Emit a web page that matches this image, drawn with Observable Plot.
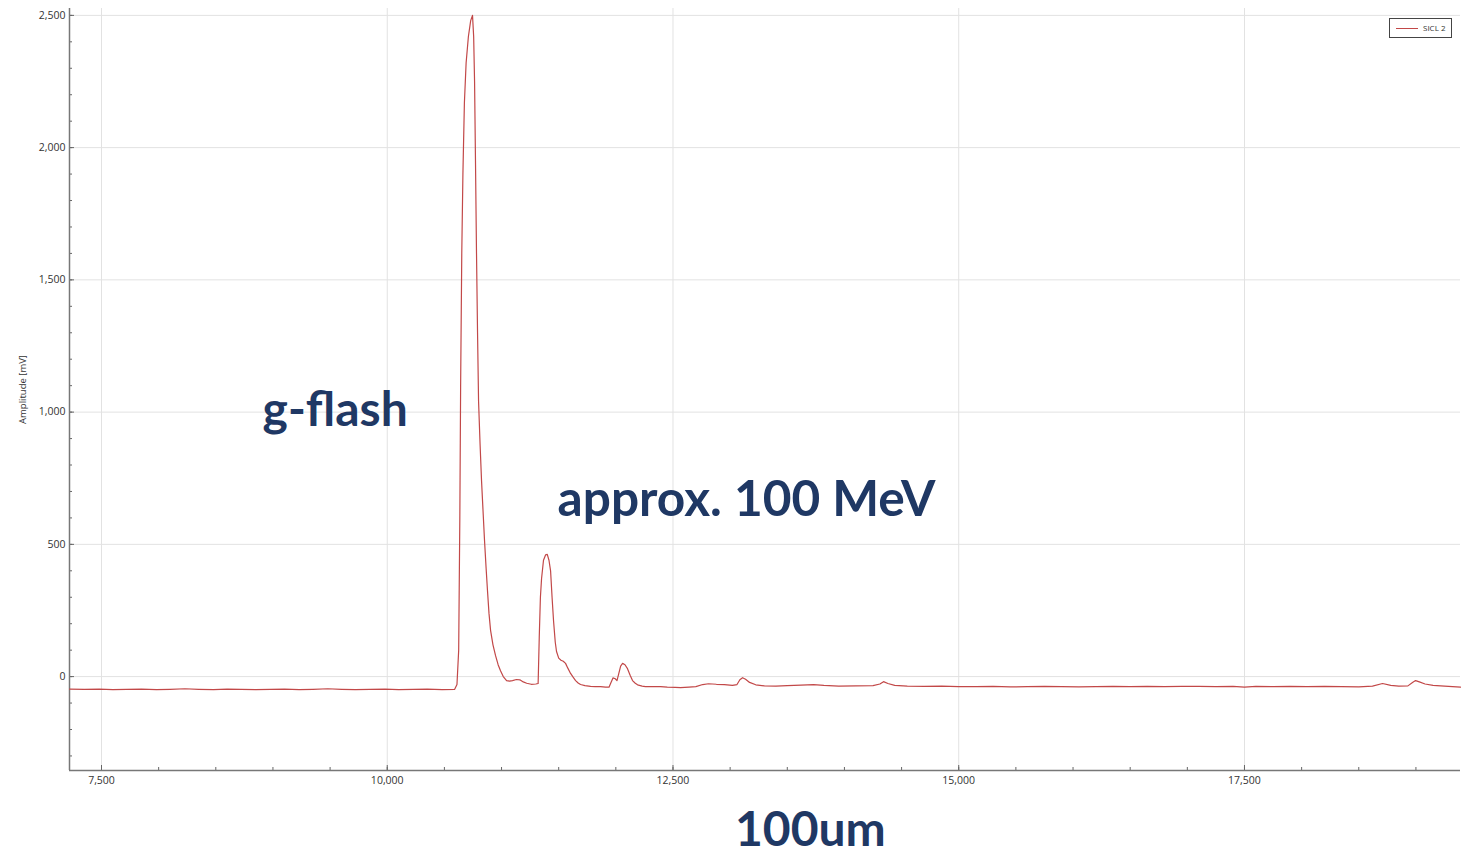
<!DOCTYPE html>
<html>
<head>
<meta charset="utf-8">
<script src="https://cdn.jsdelivr.net/npm/d3@7"></script>
<script src="https://cdn.jsdelivr.net/npm/@observablehq/plot@0.6"></script>
<style>
  html, body { margin: 0; padding: 0; background: #fff; }
  #wrap { position: relative; width: 1463px; height: 851px; overflow: hidden; }
  #legend { position: absolute; left: 1389px; top: 18px; width: 61px; height: 18px; border: 1px solid #444; background: #fff;
            font-family: "Open Sans", sans-serif; font-size: 8px; color: #333; }
  #legend .sw { position: absolute; left: 6px; top: 9px; width: 22px; height: 0; border-top: 1px solid #c24848; }
  #legend .lb { position: absolute; left: 33px; top: 3px; line-height: 11px; }
  #caption { font-family: Lato, sans-serif; font-weight: bold; font-size: 48px; line-height: 44px; height: 44px; color: #1f3864;
             margin: 11px 0 0 735px; white-space: nowrap; }
</style>
</head>
<body>
<div id="wrap">
  <div id="chart"></div>
  <div id="legend"><div class="sw"></div><div class="lb">SICL 2</div></div>
  <div id="caption">100um</div>
</div>
<script>
// ---- data ----
const seriesName = "SICL 2";
const timeX = [
  7220, 7350, 7480, 7600, 7720, 7850, 7980, 8100, 8230, 8350, 8480, 8600, 8720, 8850, 8980, 9100, 9230, 9350, 9480, 9600,
  9720, 9850, 9980, 10100, 10230, 10350, 10480, 10590,
  10610, 10625, 10635, 10642, 10652, 10662, 10675, 10690, 10710, 10730, 10746, 10756, 10764, 10772, 10781, 10790, 10799,
  10812, 10825, 10840, 10851, 10865, 10877, 10890, 10904, 10925, 10947, 10970, 10991, 11015, 11044, 11070, 11096, 11130,
  11160, 11190, 11220, 11260, 11300, 11320,
  11330, 11340, 11350, 11367, 11385, 11400, 11415, 11429, 11442, 11455, 11470, 11481, 11500, 11520, 11540, 11560, 11580,
  11604, 11626, 11648, 11670, 11691, 11730, 11779, 11820, 11866, 11910, 11940, 11955, 11975, 11995, 12010, 12025, 12042,
  12059, 12080, 12102, 12125, 12146, 12170, 12190, 12230, 12260, 12320, 12391, 12450, 12520, 12566, 12640, 12700, 12760,
  12811, 12880, 12950, 13020, 13060, 13085, 13109, 13135, 13170, 13224, 13300, 13400, 13500, 13620, 13730, 13820, 13950,
  14100, 14250, 14310, 14342, 14380, 14440, 14550, 14700, 14850, 15000, 15150, 15300, 15450, 15600, 15750, 15900, 16050,
  16200, 16350, 16500, 16650, 16800, 16950, 17100, 17250, 17400, 17500, 17600, 17750, 17900, 18050, 18200, 18350, 18500,
  18620, 18708, 18780, 18850, 18930, 18970, 18997, 19030, 19080, 19150, 19250, 19390
];
const amplitude = [
  -47, -48, -47, -49, -48, -47, -49, -48, -46, -48, -49, -47, -48, -49, -48, -47, -49, -48, -46, -48,
  -49, -48, -47, -49, -48, -47, -49, -48,
  -30, 100, 600, 1100, 1600, 1900, 2170, 2320, 2420, 2480, 2500, 2420, 2250, 1950, 1600, 1300, 1040,
  880, 740, 610, 515, 410, 325, 240, 175, 120, 80, 45, 22, 0, -15, -17, -15, -11,
  -12, -20, -25, -29, -28, -26,
  150, 300, 370, 440, 460, 462, 440, 400, 300, 210, 130, 95, 70, 62, 58, 50, 32,
  12, -2, -15, -24, -30, -34, -37, -38, -38, -40, -40, -25, -5, -8, -15, 10, 40,
  50, 45, 30, 5, -15, -25, -31, -36, -38, -38, -38, -40, -41, -42, -40, -38, -30,
  -27, -29, -30, -33, -30, -12, -4, -10, -22, -31, -35, -36, -34, -32, -30, -33, -36,
  -35, -34, -28, -19, -26, -33, -36, -37, -36, -38, -38, -37, -39, -38, -37, -38, -39,
  -38, -37, -38, -37, -38, -37, -37, -38, -37, -40, -37, -38, -37, -38, -37, -38, -39,
  -36, -26, -33, -36, -35, -22, -15, -20, -28, -33, -36, -40
];
const xTickValues = [7500, 10000, 12500, 15000, 17500];
const xMinorTicks = [7500, 8000, 8500, 9000, 9500, 10000, 10500, 11000, 11500, 12000, 12500, 13000, 13500, 14000,
  14500, 15000, 15500, 16000, 16500, 17000, 17500, 18000, 18500, 19000];
const yTickValues = [0, 500, 1000, 1500, 2000, 2500];
const yMinorTicks = [-300, -200, -100, 0, 100, 200, 300, 400, 500, 600, 700, 800, 900, 1000, 1100, 1200, 1300, 1400,
  1500, 1600, 1700, 1800, 1900, 2000, 2100, 2200, 2300, 2400, 2500];
const annotLabels = ["g-flash", "approx. 100 MeV"];
const annotX = [8909, 11490];
const annotY = [949, 609];
const annotSize = [48, 49.6];
const yLabel = "Amplitude [mV]";

// ---- build ----
const trace = timeX.map((x, i) => ({x, y: amplitude[i], series: seriesName}));
const annots = annotLabels.map((t, i) => ({t, x: annotX[i], y: annotY[i], s: annotSize[i]}));
const fmt = d3.format(",");

const chart = Plot.plot({
  width: 1463,
  height: 795,
  marginLeft: 69,
  marginRight: 3,
  marginTop: 8,
  marginBottom: 25,
  x: {domain: [7220, 19390]},
  y: {domain: [-355, 2526]},
  style: {fontFamily: "'Open Sans', sans-serif", fontSize: "10.5px", color: "#333", background: "#fff"},
  marks: [
    Plot.gridX(xTickValues, {stroke: "#e2e2e2", strokeOpacity: 1}),
    Plot.gridY(yTickValues, {stroke: "#e2e2e2", strokeOpacity: 1}),
    Plot.axisX({ticks: xMinorTicks, tickSize: -3, text: null, label: null, stroke: "#666"}),
    Plot.axisX({ticks: xTickValues, tickSize: -5, text: null, label: null, stroke: "#666"}),
    Plot.axisX({ticks: xTickValues, tickSize: 0, tickPadding: 6, tickFormat: fmt, label: null}),
    Plot.axisY({ticks: yMinorTicks, tickSize: -3, text: null, label: null, stroke: "#666"}),
    Plot.axisY({ticks: yTickValues, tickSize: -5, text: null, label: null, stroke: "#666"}),
    Plot.axisY({ticks: yTickValues, tickSize: 0, tickPadding: 4, tickFormat: fmt, label: null}),
    Plot.text([yLabel], {text: d => d, frameAnchor: "left", textAnchor: "middle", rotate: -90, dx: -47, fontSize: 9.5, fill: "#333"}),
    Plot.ruleX([7220], {stroke: "#777", strokeWidth: 1.5}),
    Plot.ruleY([-355], {stroke: "#777", strokeWidth: 1.5}),
    Plot.line(trace, {x: "x", y: "y", stroke: "#c24848", strokeWidth: 1.2}),
    Plot.text(annots, {x: "x", y: "y", text: "t", fontSize: "s", textAnchor: "start", lineAnchor: "bottom",
      fontFamily: "Lato, sans-serif", fontWeight: "bold", fill: "#1f3864"})
  ]
});
document.getElementById("chart").appendChild(chart);
</script>
</body>
</html>
